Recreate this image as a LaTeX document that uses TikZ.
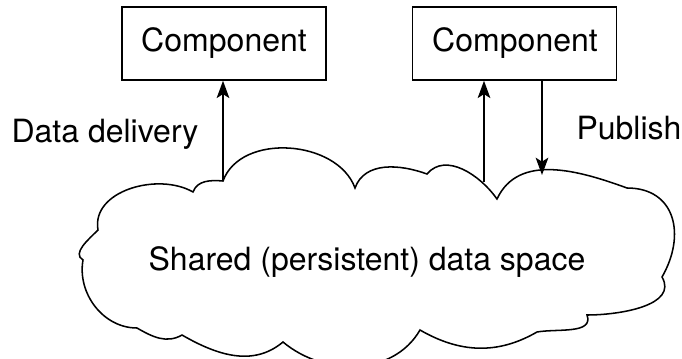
\documentclass[tikz,border=0pt]{standalone}
\usepackage{fontspec}
\setmainfont{TeX Gyre Heros}
\usetikzlibrary{arrows.meta}
\begin{document}
\begin{tikzpicture}[x=0.75pt,y=0.75pt,
  line width=1.15pt,
  compbox/.style={draw, minimum width=153pt, minimum height=54.75pt, inner sep=0pt},
  lbl/.style={font=\fontsize{24}{28}\selectfont, inner sep=0pt, anchor=base},
  arr/.style={-{Stealth[length=13pt,width=9.5pt,inset=3pt]}}]
\useasboundingbox (0,0) rectangle (682,358);
% boxes
\node[compbox] (comp1) at (224,314.5) {};
\node[compbox] (comp2) at (514.5,314.5) {};
\node[lbl] (t1) at (224,306) {Component};
\node[lbl] (t2) at (515,306) {Component};
% labels
\node[lbl] (dd) at (105,215.5) {Data delivery};
\node[lbl] (pub) at (629,219) {Publish};
% cloud
\coordinate (N14) at (193,166);
\coordinate (A) at (223,177);
\coordinate (N1) at (355,170);
\coordinate (N2) at (427,184);
\coordinate (N3) at (497,159);
\coordinate (N4) at (627,170);
\coordinate (N5) at (662,81);
\coordinate (N6) at (587,43);
\coordinate (N7) at (537,26);
\coordinate (N8) at (420,28);
\coordinate (N9) at (283,16);
\coordinate (N10) at (182,23);
\coordinate (N11) at (137,30);
\coordinate (N12) at (83,98);
\coordinate (N13) at (98,128);
\draw (N14) to[out=70,in=175] (A)
  to[out=70,in=110] (N1)
  to[out=70,in=160] (N2)
  to[out=50,in=125] (N3)
  to[out=65,in=160] (N4)
  to[out=0,in=60,looseness=1.3] (N5)
  to[out=-60,in=0] (N6)
  to[out=-70,in=10] (N7)
  to[out=-150,in=-30] (N8)
  to[out=-120,in=-40] (N9)
  to[out=-140,in=-30] (N10)
  to[out=-150,in=-30] (N11)
  to[out=180,in=-100] (N12)
  to[out=150,in=-135] (N13)
  to[out=100,in=150] (N14) -- cycle;
\node[lbl] (sh) at (367,88) {Shared (persistent) data space};
% connectors
\coordinate (B) at (484,176);
\coordinate (C) at (542,183);
\draw[arr] (A) -- (A |- comp1.south);
\draw[arr] (B) -- (B |- comp2.south);
\draw[arr] (C |- comp2.south) -- (C);
\end{tikzpicture}
\end{document}
